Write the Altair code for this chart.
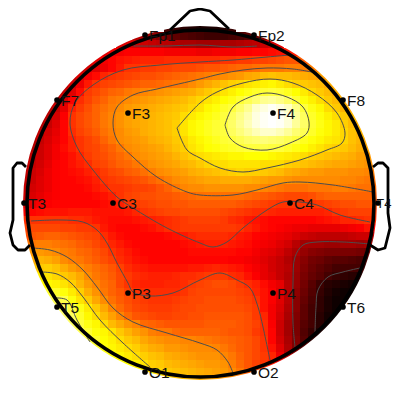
import altair as alt
import pandas as pd

# Colour-equivalent potential, one row per 8 px band
ROW_START = [18,14,12,10,8,7,6,5,4,3,3,2,2,1,1,0,0,0,0,0,0,0,0,0,0,0,0,0,0,0,1,1,2,2,3,3,4,5,6,7,8,10,12,14,18]
HEAT = [
[10,8,6,5,4,4,4,5,8],
[27,25,23,20,17,14,12,11,10,9,9,9,10,11,13,16,20],
[32,32,31,30,29,28,27,26,25,25,24,24,24,25,25,26,27,28,30,31,33],
[33,35,36,37,37,37,37,37,36,36,36,36,35,35,36,36,36,37,37,38,38,39,40,41,42],
[31,33,36,38,40,41,42,43,43,43,44,44,44,44,44,44,44,45,45,46,46,47,47,48,49,50,50,51,52],
[30,31,33,35,38,41,45,45,46,46,47,47,48,48,48,49,50,50,51,52,53,53,54,55,55,55,56,56,56,56,56],
[29,32,36,39,43,45,46,47,48,49,49,50,51,52,53,54,55,56,57,58,59,60,62,63,65,66,65,65,64,63,62,61,60],
[27,31,35,41,45,47,48,49,50,51,52,52,53,54,55,56,58,60,62,64,66,68,69,71,72,73,74,72,70,68,67,66,65,63,62],
[26,29,33,39,46,48,50,52,53,55,56,57,58,59,60,61,62,63,65,67,69,71,73,75,77,79,80,81,80,78,75,72,69,67,65,63,62],
[24,27,31,37,44,47,50,52,55,56,58,59,60,61,62,63,64,65,67,69,71,73,75,77,80,83,86,89,90,88,85,80,76,73,70,67,65,63,61],
[26,29,34,42,46,49,52,54,56,58,60,61,62,63,64,65,66,67,69,71,74,76,79,81,85,89,95,97,99,97,94,88,81,77,74,70,67,64,62],
[25,27,31,37,45,48,50,52,55,57,59,61,62,63,64,65,66,67,70,72,74,76,78,81,84,88,92,97,99,100,99,96,90,84,79,76,73,70,67,65,63],
[26,29,33,38,45,48,50,52,55,57,59,61,62,63,64,65,66,68,71,74,76,78,80,81,85,89,93,97,99,100,99,96,90,85,80,77,74,72,68,65,63],
[25,28,31,34,38,44,47,49,51,54,56,58,60,61,63,64,65,66,68,71,74,76,78,80,81,84,87,90,93,95,95,93,90,86,83,79,76,74,72,69,66,64,62],
[26,29,32,35,38,42,45,47,49,52,55,58,59,60,61,63,64,65,67,69,72,74,76,78,80,81,83,85,86,87,86,85,83,81,78,76,74,72,71,69,66,64,62],
[24,26,30,33,36,39,42,45,47,48,50,52,55,58,59,60,61,62,64,66,68,71,73,75,76,78,79,80,81,81,82,81,81,79,77,75,73,71,69,68,67,65,63,62,60],
[26,28,30,33,36,38,40,43,46,48,49,51,53,55,58,59,60,61,62,64,66,68,70,71,72,73,74,74,75,75,75,74,73,72,71,70,68,67,66,65,64,63,61,60,59],
[27,29,31,34,37,38,40,42,44,47,48,50,52,53,55,57,59,60,61,62,64,65,67,69,70,70,71,71,71,71,70,70,70,68,67,66,65,64,63,62,62,61,60,59,58],
[28,30,32,35,37,38,39,40,42,44,46,48,49,51,52,54,56,58,59,60,61,63,64,65,66,67,68,69,68,68,67,66,65,63,62,61,60,60,59,59,59,58,58,57,56],
[28,30,33,35,37,38,38,39,40,42,45,46,47,48,49,50,52,54,56,58,59,60,61,62,62,63,63,63,63,62,61,60,60,59,58,58,58,58,58,58,57,57,56,55,54],
[29,31,33,35,37,38,38,38,39,41,43,45,45,46,47,47,48,50,52,55,57,58,58,59,59,59,59,59,58,58,57,56,55,54,54,54,55,55,55,56,56,55,54,54,53],
[30,32,34,36,37,38,38,38,38,39,40,42,45,47,48,49,49,50,50,51,52,53,54,54,54,54,54,54,53,52,51,50,49,48,48,48,49,51,52,52,52,52,52,52,51],
[32,34,36,37,38,38,38,38,38,38,39,40,42,45,46,47,48,49,49,50,50,51,51,51,51,51,51,50,49,48,47,46,45,45,45,45,45,46,47,48,49,49,50,50,49],
[36,38,39,40,40,40,41,41,41,40,40,40,40,41,43,45,46,47,48,48,49,49,49,49,49,48,47,46,45,44,44,43,42,42,42,42,42,42,43,45,46,47,47,47,46],
[44,45,45,45,45,45,44,44,43,41,40,39,39,39,40,41,42,43,44,45,46,47,47,47,47,46,44,43,41,40,39,38,38,38,38,38,38,39,40,41,43,43,44,45,44],
[47,48,48,48,48,47,47,46,46,45,41,39,38,38,38,39,40,42,44,45,46,46,46,46,46,46,46,45,43,41,39,38,37,36,35,35,34,34,34,34,35,36,37,40,38],
[49,50,51,52,52,51,50,49,48,47,44,41,39,38,38,38,38,38,39,40,41,43,44,44,44,44,43,41,40,38,37,36,35,34,32,30,29,28,28,28,28,29,30,30,28],
[53,55,56,56,55,54,53,51,50,48,46,43,41,39,38,38,38,38,38,38,39,40,41,42,42,42,41,40,39,37,36,35,33,31,27,24,24,24,23,23,24,24,23,24,22],
[58,60,60,59,58,56,55,53,52,50,48,45,43,41,39,38,38,38,38,38,38,39,39,39,39,39,39,38,38,36,34,33,31,28,25,22,20,19,18,18,18,18,17,16,15],
[62,63,64,63,61,58,56,55,53,51,49,47,44,42,40,39,38,38,38,38,38,38,38,38,38,38,37,37,36,35,33,31,29,26,23,20,17,16,14,13,13,12,11,10,9],
[66,67,68,66,63,60,58,56,54,52,50,47,44,42,41,40,40,40,40,40,41,41,42,43,42,41,40,38,36,34,31,29,27,23,19,16,14,12,10,10,10,10,8],
[71,72,71,69,67,65,62,58,55,53,51,48,46,44,43,42,42,42,43,44,44,45,46,46,46,44,43,40,37,34,32,29,26,22,18,15,13,10,8,7,6,5,4],
[74,74,73,71,68,64,60,57,54,52,48,45,43,42,42,42,43,43,44,46,47,48,49,49,48,46,44,42,39,36,34,27,22,17,13,9,6,5,4,3,2],
[78,80,79,76,72,68,63,59,55,52,50,47,45,44,44,44,44,44,45,47,48,48,48,48,48,47,46,43,40,37,33,27,21,16,12,8,5,3,2,2,2],
[84,83,82,76,71,67,62,58,54,51,49,47,46,45,45,45,46,47,48,48,49,49,49,49,48,47,45,40,37,33,27,20,15,11,7,4,2,2,2],
[84,86,85,81,77,72,67,62,57,53,50,48,47,46,46,46,47,48,48,49,49,49,49,49,49,48,46,40,36,32,26,20,14,10,7,4,2,1,1],
[88,86,84,79,74,70,65,61,57,53,50,49,48,47,47,48,48,49,49,50,50,50,50,50,49,46,43,36,31,25,19,14,10,6,3,2,1],
[86,85,81,77,74,70,65,62,59,57,53,52,51,50,50,50,50,50,51,51,51,51,50,49,47,44,37,30,24,18,13,10,6,3,2],
[84,83,80,76,74,71,67,64,61,59,56,55,55,53,52,52,52,52,52,51,50,50,49,46,44,38,30,24,18,12,8,4,2],
[84,82,79,75,73,70,67,65,62,60,59,58,58,57,57,56,55,54,53,52,51,50,48,45,38,31,25,19,13,7,4],
[80,79,76,74,72,70,68,65,63,62,60,60,59,58,58,58,57,55,53,51,50,48,45,40,33,26,19,12,6],
[78,76,74,72,70,68,66,65,63,62,61,60,59,59,59,57,55,52,50,48,46,43,35,27,20],
[77,75,73,71,68,67,65,64,63,62,61,60,60,59,56,53,50,47,45,41,33],
[75,73,71,69,67,66,65,64,63,62,61,60,58,55,51,47,44],
[68,66,65,64,63,62,61,59,57],
]

CONTOURS = [
 [(225,125),(233,107),(250,97),(267,93),(287,97),(303,107),(309,122),(307,133),(290,143),(267,150),(243,147),(230,138),(225,125)],
 [(177,128),(187,150),(200,158),(220,168),(243,172),(267,168),(300,160),(327,150),(342,143),(345,133),(337,113),(317,95),(293,83),(270,79),(243,83),(217,92),(200,103),(177,128)],
 [(373,192),(333,185),(300,182),(283,183),(257,190),(233,195),(200,195),(187,192),(157,177),(133,157),(117,140),(113,123),(117,107),(133,95),(157,89),(200,79),(220,74),(243,70),(267,68),(293,69),(317,73)],
 [(290,55),(267,57),(233,60),(200,62),(160,65),(123,70),(93,85),(75,103),(70,123),(77,147),(93,170),(117,197),(133,208),(167,228),(200,243),(213,247),(227,242),(243,228),(267,210),(283,202),(300,202),(317,205),(340,215),(370,222)],
 [(133,46),(167,46),(200,45),(233,47),(257,46)],
 [(31,221),(60,220),(83,222),(97,230),(107,243),(117,263),(128,283),(133,292),(150,296),(173,293),(200,280),(220,273),(237,280),(250,288),(258,307),(263,327),(270,360)],
 [(295,347),(293,323),(293,283),(295,257),(303,245),(317,242),(343,242),(370,244)],
 [(315,332),(316,307),(318,290),(328,277),(343,272),(360,268)],
 [(31,248),(50,250),(67,257),(83,270),(97,287),(113,308),(133,322),(167,333),(200,343),(217,350),(228,362),(233,373)],
 [(42,272),(57,274),(70,282),(83,297),(100,320),(123,343),(150,367)],
 [(55,298),(67,300),(77,320),(90,342)],
]

NOSE = [(170,30),(190,11),(200,9),(210,11),(229,29)]
EAR_L = [(26,167),(22,163),(17,163),(13,168),(13,190),(13,220),(10,233),(13,245),(18,250),(25,250),(30,245)]
EAR_R = [(373,167),(378,163),(383,163),(388,168),(388,190),(388,213),(390,228),(385,248),(378,250),(370,245)]

ELECTRODES = ["Fp1","Fp2","F7","F3","F4","F8","T3","C3","C4","T4","P3","P4","T5","T6","O1","O2"]
EL_X = [145,254,57,128,273,343,24,113,290,378,128,273,57,343,145,254]
EL_Y = [35,35,100,113,113,100,203,203,203,203,293,293,307,307,372,372]

HEAD_CENTER = (200.5, 203.5)
DISC_CENTER = (200, 203)

CELL = 8
X0 = 20
Y0 = 24

heat_records = []
for j, row in enumerate(HEAT):
    for k, v in enumerate(row):
        i = ROW_START[j] + k
        heat_records.append({
            "x": X0 + CELL * i, "x2": X0 + CELL * (i + 1),
            "y": Y0 + CELL * j, "y2": Y0 + CELL * (j + 1), "v": v,
        })
heat_df = pd.DataFrame(heat_records)

def lines_df(lines):
    recs = []
    for g, pts in enumerate(lines):
        for o, (x, y) in enumerate(pts):
            recs.append({"g": g, "o": o, "x": x, "y": y})
    return pd.DataFrame(recs)

xs = alt.Scale(domain=[8, 392], nice=False, zero=False)
ys = alt.Scale(domain=[388, 8], nice=False, zero=False)
X = alt.X("x:Q", scale=xs, axis=None)
Y = alt.Y("y:Q", scale=ys, axis=None)

heat = alt.Chart(heat_df).mark_rect(strokeWidth=0).encode(
    x=X, x2="x2:Q", y=Y, y2="y2:Q",
    color=alt.Color("v:Q", legend=None, scale=alt.Scale(
        domain=[0, 37.5, 75, 100], range=["#000000", "#ff0000", "#ffff00", "#ffffff"],
        interpolate="rgb")),
)

disc_df = pd.DataFrame([{"x": DISC_CENTER[0], "y": DISC_CENTER[1]}])
head_df = pd.DataFrame([{"x": HEAD_CENTER[0], "y": HEAD_CENTER[1]}])
ring = alt.Chart(disc_df).mark_point(shape="circle", filled=False, size=(354 + 70) ** 2,
                                     strokeWidth=70, color="white", opacity=1).encode(x=X, y=Y)

contours = alt.Chart(lines_df(CONTOURS)).mark_line(
    color="#4d4d4d", strokeWidth=1, interpolate="catmull-rom").encode(
    x=X, y=Y, detail="g:N", order="o:Q")

head = alt.Chart(head_df).mark_point(shape="circle", filled=False, size=347 ** 2,
                                     strokeWidth=3.6, color="black", opacity=1).encode(x=X, y=Y)

outline = alt.Chart(lines_df([NOSE, EAR_L, EAR_R])).mark_line(
    color="black", strokeWidth=2.8, strokeJoin="round").encode(x=X, y=Y, detail="g:N", order="o:Q")

el_df = pd.DataFrame({"x": EL_X, "y": EL_Y, "name": ELECTRODES})
dots = alt.Chart(el_df).mark_point(shape="circle", filled=True, size=32, color="black", opacity=1).encode(x=X, y=Y)
labels = alt.Chart(el_df[el_df["name"] != "T4"]).mark_text(align="left", baseline="middle", dx=4, dy=1,
                                    font="Liberation Sans", fontSize=15.5, color="#111111").encode(
    x=X, y=Y, text="name:N")
# T4 sits at the very edge of the drawable page, so it ends at the last visible pixel
t4_label = alt.Chart(el_df[el_df["name"] == "T4"]).mark_text(align="right", baseline="middle", dx=13.5, dy=1,
                                    font="Liberation Sans", fontSize=13, color="#111111").encode(
    x=X, y=Y, text="name:N")

chart = alt.layer(heat, ring, contours, head, outline, dots, labels, t4_label).properties(
    width=384, height=380, padding=0,
    autosize=alt.AutoSizeParams(type="none"),
).configure_view(stroke=None)

chart.save("out.html", embed_options={"renderer": "svg", "actions": False})
